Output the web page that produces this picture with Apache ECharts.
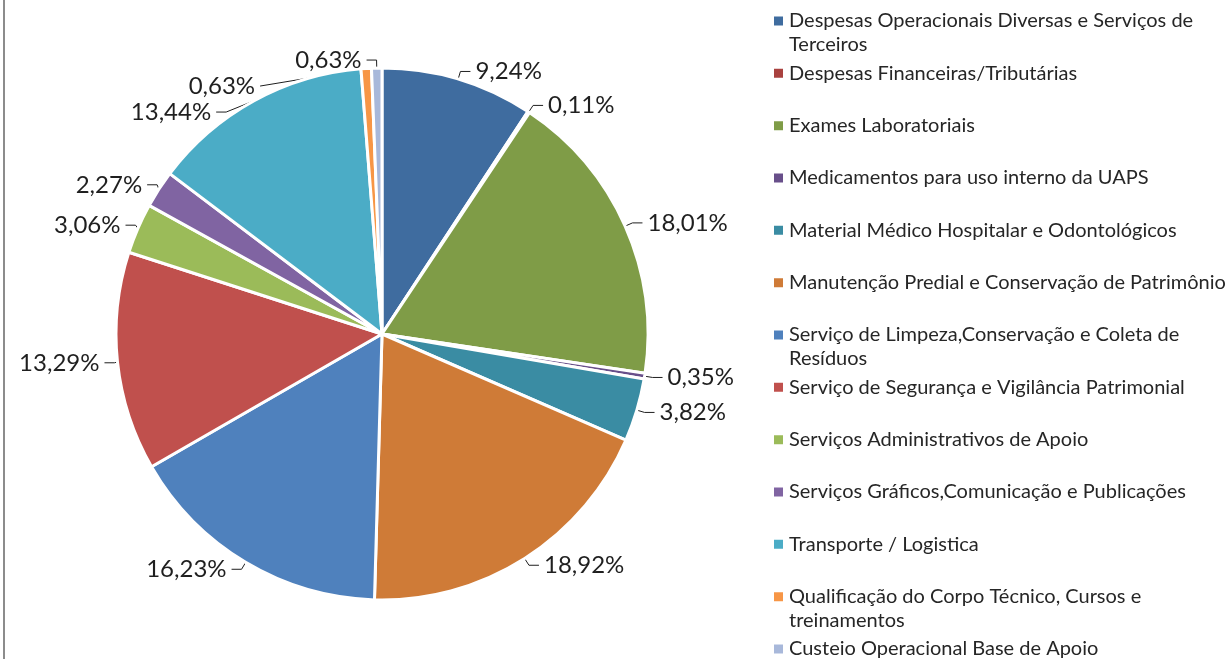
<!DOCTYPE html>
<html>
<head>
<meta charset="utf-8">
<script src="https://cdn.jsdelivr.net/npm/echarts@6/dist/echarts.min.js"></script>
<style>
  html, body { margin: 0; padding: 0; background: #fff; }
  #frame {
    position: absolute; left: 3px; top: 0;
    width: 1228px; height: 659px;
    border-left: 2px solid #8c8c8c;
  }
  #chart { width: 1226px; height: 659px; }
</style>
</head>
<body>
<div id="frame"><div id="chart"></div></div>
<script>
// categorias (ordem da legenda, sentido horário a partir das 12h)
const categorias = [
  'Despesas Operacionais Diversas e Serviços de Terceiros',
  'Despesas Financeiras/Tributárias',
  'Exames Laboratoriais',
  'Medicamentos para uso interno da UAPS',
  'Material Médico Hospitalar e Odontológicos',
  'Manutenção Predial e Conservação de Patrimônio',
  'Serviço de Limpeza,Conservação e Coleta de Resíduos',
  'Serviço de Segurança e Vigilância Patrimonial',
  'Serviços Administrativos de Apoio',
  'Serviços Gráficos,Comunicação e Publicações',
  'Transporte / Logistica',
  'Qualificação do Corpo Técnico, Cursos e treinamentos',
  'Custeio Operacional Base de Apoio'
]

// percentuais (%)
const percentuais = [9.24, 0.11, 18.01, 0.35, 3.82, 18.92, 16.23, 13.29, 3.06, 2.27, 13.44, 0.63, 0.63]

// paleta
const cores = [
  '#3f6c9f', '#a9413f', '#7f9c47', '#684f8a', '#3a8ca3', '#cf7b37',
  '#4f81bd', '#c0504d', '#9bbb59', '#8064a2', '#4bacc6', '#f79646', '#a8b8da'
]

const MAX_CARACTERES = 46 // acima disso a legenda quebra em duas linhas
const ALTURA_LINHA = 24

/**
 * quebra o nome em duas linhas (como no Excel). Uma linha vazia no início
 * mantém o quadradinho alinhado com a primeira linha do texto.
 */
const quebra = nome => nome.length > MAX_CARACTERES
const formatarLegenda = nome => {
  if (!quebra(nome)) return nome
  const corte = nome.lastIndexOf(' ', 44)
  return '\n' + nome.slice(0, corte) + '\n' + nome.slice(corte + 1)
}

const chart = echarts.init(document.getElementById('chart'))

const dados = categorias.map((nome, i) => ({ name: nome, value: percentuais[i] }))

/* uma legenda por item, espaçamento fixo como no Excel */
const legendas = categorias.map((nome, i) => ({
  orient: 'vertical',
  left: 762,
  top: 4 + i * 52.33 - (quebra(nome) ? ALTURA_LINHA : 0),
  icon: 'rect',
  itemWidth: 11,
  itemHeight: 11,
  selectedMode: false,
  data: [nome],
  formatter: formatarLegenda,
  textStyle: {
    fontFamily: 'Lato',
    fontSize: 20,
    color: '#262626',
    lineHeight: ALTURA_LINHA
  }
}))

chart.setOption({
  animation: false,
  color: cores,
  textStyle: { fontFamily: 'Lato' },
  legend: legendas,
  series: [
    {
      type: 'pie',
      center: [377, 334],
      radius: 266,
      startAngle: 90,
      clockwise: true,
      data: dados,
      itemStyle: {
        borderColor: '#fff',
        borderWidth: 3
      },
      label: {
        show: true,
        position: 'outside',
        fontFamily: 'Lato',
        fontSize: 24,
        color: '#1f1f1f',
        formatter: p => p.value.toFixed(2).replace('.', ',') + '%'
      },
      labelLine: {
        show: true,
        length: 8,
        length2: 10,
        lineStyle: { color: '#1f1f1f', width: 1 }
      },
      emphasis: { disabled: true }
    }
  ]
})
</script>
</body>
</html>
